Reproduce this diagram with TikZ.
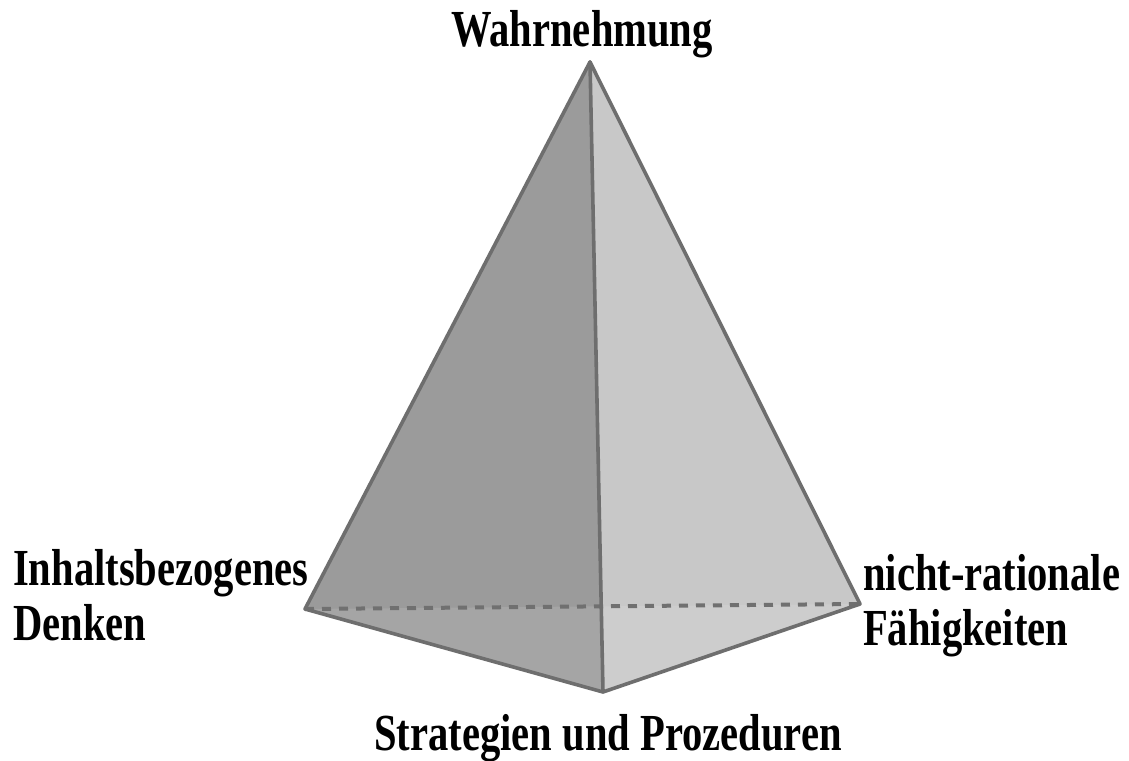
\documentclass[tikz,border=0pt]{standalone}
\usepackage{fontspec}
\setmainfont{Liberation Serif}[FakeStretch=0.78]
\definecolor{leftface}{HTML}{9B9B9B}
\definecolor{rightface}{HTML}{C8C8C8}
\definecolor{edgecol}{HTML}{6E6E6E}
\definecolor{hidcol}{HTML}{707070}
\begin{document}
\begin{tikzpicture}[x=1pt,y=-1pt,
  lab/.style={font=\fontsize{52}{55}\selectfont\bfseries, inner sep=0pt, text=black},
  edge/.style={draw=edgecol, line width=3.6pt, line join=round, line cap=round},
  hidden/.style={draw=hidcol, line width=4pt, dash pattern=on 9pt off 8pt}]
\useasboundingbox (0,0) rectangle (1129,760);
\fill[white] (0,0) rectangle (1129,760);
\coordinate (A) at (590,62);
\coordinate (L) at (305,609);
\coordinate (F) at (603,692);
\coordinate (R) at (860,604);
\fill[leftface] (A)--(L)--(F)--cycle;
\fill[rightface] (A)--(F)--(R)--cycle;
\fill[white,opacity=0.1] (L)--(F)--(R)--cycle;
\draw[hidden] (L)--(R);
\draw[edge] (A)--(L)--(F)--(R)--cycle;
\draw[edge] (A)--(F);
\node[lab, anchor=base] (wahr) at (582,47) {Wahrnehmung};
\node[lab, anchor=base west, align=left] (inh) at (13,640) {Inhaltsbezogenes\\Denken};
\node[lab, anchor=base west, align=left] (nicht) at (863,645) {nicht-rationale\\Fähigkeiten};
\node[lab, anchor=base] (strat) at (608,750) {Strategien und Prozeduren};
\end{tikzpicture}
\end{document}
